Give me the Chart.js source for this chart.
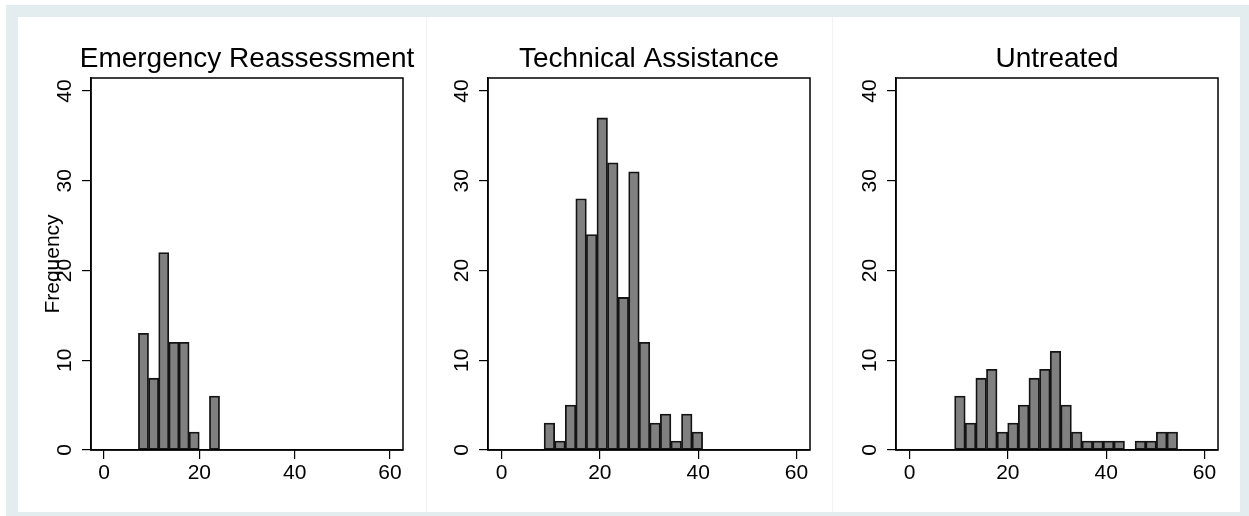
<!DOCTYPE html>
<html>
<head>
<meta charset="utf-8">
<script src="https://cdn.jsdelivr.net/npm/chart.js@4"></script>
<style>
  html, body { margin: 0; padding: 0; background: #fff; }
  #frame { position: absolute; left: 6px; top: 5px; width: 1243px; height: 511px; background: #e3ecee; }
  #inner { position: absolute; left: 12px; top: 12px; width: 1222px; height: 495px; background: #fff; }
  .panel { position: absolute; top: 0; height: 495px; }
  .sep { border-left: 1px solid #f1f3f3; }
</style>
</head>
<body>
<div id="frame">
  <div id="inner">
    <div class="panel" style="left:0; width:408px"><canvas id="c1"></canvas></div>
    <div class="panel sep" style="left:408px; width:405px"><canvas id="c2"></canvas></div>
    <div class="panel sep" style="left:814px; width:408px"><canvas id="c3"></canvas></div>
  </div>
</div>
<script>
// histogram panels (Stata style)

const panelTitles = ['Emergency Reassessment', 'Technical Assistance', 'Untreated'];
const xTicks = [0, 20, 40, 60];
const yTicks = [0, 10, 20, 30, 40];

// bin start / bin width / frequencies
const erStart = 7.2, erWidth = 2.13;
const erCounts = [13, 8, 22, 12, 12, 2, 0, 6];

const taStart = 8.66, taWidth = 2.15;
const taCounts = [3, 1, 5, 28, 24, 37, 32, 17, 31, 12, 3, 4, 1, 4, 2];

const utStart = 9.17, utWidth = 2.16;
const utCounts = [6, 3, 8, 9, 2, 3, 5, 8, 9, 11, 5, 2, 1, 1, 1, 1, 0, 1, 1, 2, 2];

const FONT = "'Liberation Sans', Arial, Helvetica, sans-serif";

// outline the whole plot region like Stata does
const boxPlugin = {
  id: 'plotBox',
  afterDraw(chart) {
    const a = chart.chartArea;
    const ctx = chart.ctx;
    ctx.save();
    ctx.strokeStyle = '#000';
    ctx.lineWidth = 1.5;
    ctx.strokeRect(a.left, a.top, a.right - a.left, a.bottom - a.top);
    ctx.restore();
  }
};

// panel title centred over the plot box, allowed to overflow it (no squeezing)
const headPlugin = {
  id: 'panelHead',
  afterDraw(chart, args, o) {
    const a = chart.chartArea;
    const ctx = chart.ctx;
    ctx.save();
    ctx.fillStyle = '#000';
    ctx.font = '28px ' + FONT;
    ctx.textAlign = 'center';
    ctx.textBaseline = 'alphabetic';
    ctx.fillText(o.text, (a.left + a.right) / 2, a.top - 11);
    ctx.restore();
  }
};

function makePanel(id, title, start, width, counts, opts) {
  const points = counts.map((c, i) => ({ x: start + (i + 0.5) * width, y: c }));
  const ctx = document.getElementById(id);
  ctx.width = opts.w; ctx.height = 495;
  return new Chart(ctx, {
    type: 'bar',
    data: {
      datasets: [{
        data: points,
        backgroundColor: '#808080',
        borderColor: '#141414',
        borderWidth: 1.8,
        borderSkipped: false,
        categoryPercentage: 1,
        barPercentage: 1
      }]
    },
    options: {
      responsive: false,
      animation: false,
      devicePixelRatio: 1,
      layout: { padding: { left: 0, right: opts.padRight, top: 61, bottom: 0 } },
      plugins: {
        legend: { display: false },
        tooltip: { enabled: false },
        title: { display: false },
        panelHead: { text: title }
      },
      scales: {
        x: {
          type: 'linear',
          offset: false,
          min: -2.75,
          max: 62.75,
          afterBuildTicks: s => { s.ticks = xTicks.map(v => ({ value: v })); },
          afterFit: s => { s.height = 62; },
          grid: { display: true, offset: false, drawOnChartArea: false, drawTicks: true, tickLength: 9, color: '#000', lineWidth: 1.2 },
          border: { display: true, color: '#000', width: 1.5 },
          ticks: { color: '#000', font: { family: FONT, size: 21 }, padding: 2, maxRotation: 0 }
        },
        y: {
          min: 0,
          max: 41.45,
          afterBuildTicks: s => { s.ticks = yTicks.map(v => ({ value: v })); },
          afterFit: s => { s.width = opts.yWidth; },
          grid: { display: true, drawOnChartArea: false, drawTicks: true, tickLength: 9, color: '#000', lineWidth: 1.2 },
          border: { display: true, color: '#000', width: 1.5 },
          ticks: {
            color: '#000', font: { family: FONT, size: 21 },
            minRotation: 90, maxRotation: 90,
            crossAlign: 'center', padding: 5
          },
          title: {
            display: opts.yTitle,
            text: 'Frequency',
            color: '#000',
            font: { family: FONT, size: 21 },
            padding: { top: 22.4, bottom: 0 }
          }
        }
      }
    },
    plugins: [boxPlugin, headPlugin]
  });
}

makePanel('c1', panelTitles[0], erStart, erWidth, erCounts, { w: 408, padRight: 23, yWidth: 73, yTitle: true });
makePanel('c2', panelTitles[1], taStart, taWidth, taCounts, { w: 405, padRight: 22, yWidth: 61, yTitle: false });
makePanel('c3', panelTitles[2], utStart, utWidth, utCounts, { w: 408, padRight: 23, yWidth: 63, yTitle: false });
</script>
</body>
</html>
